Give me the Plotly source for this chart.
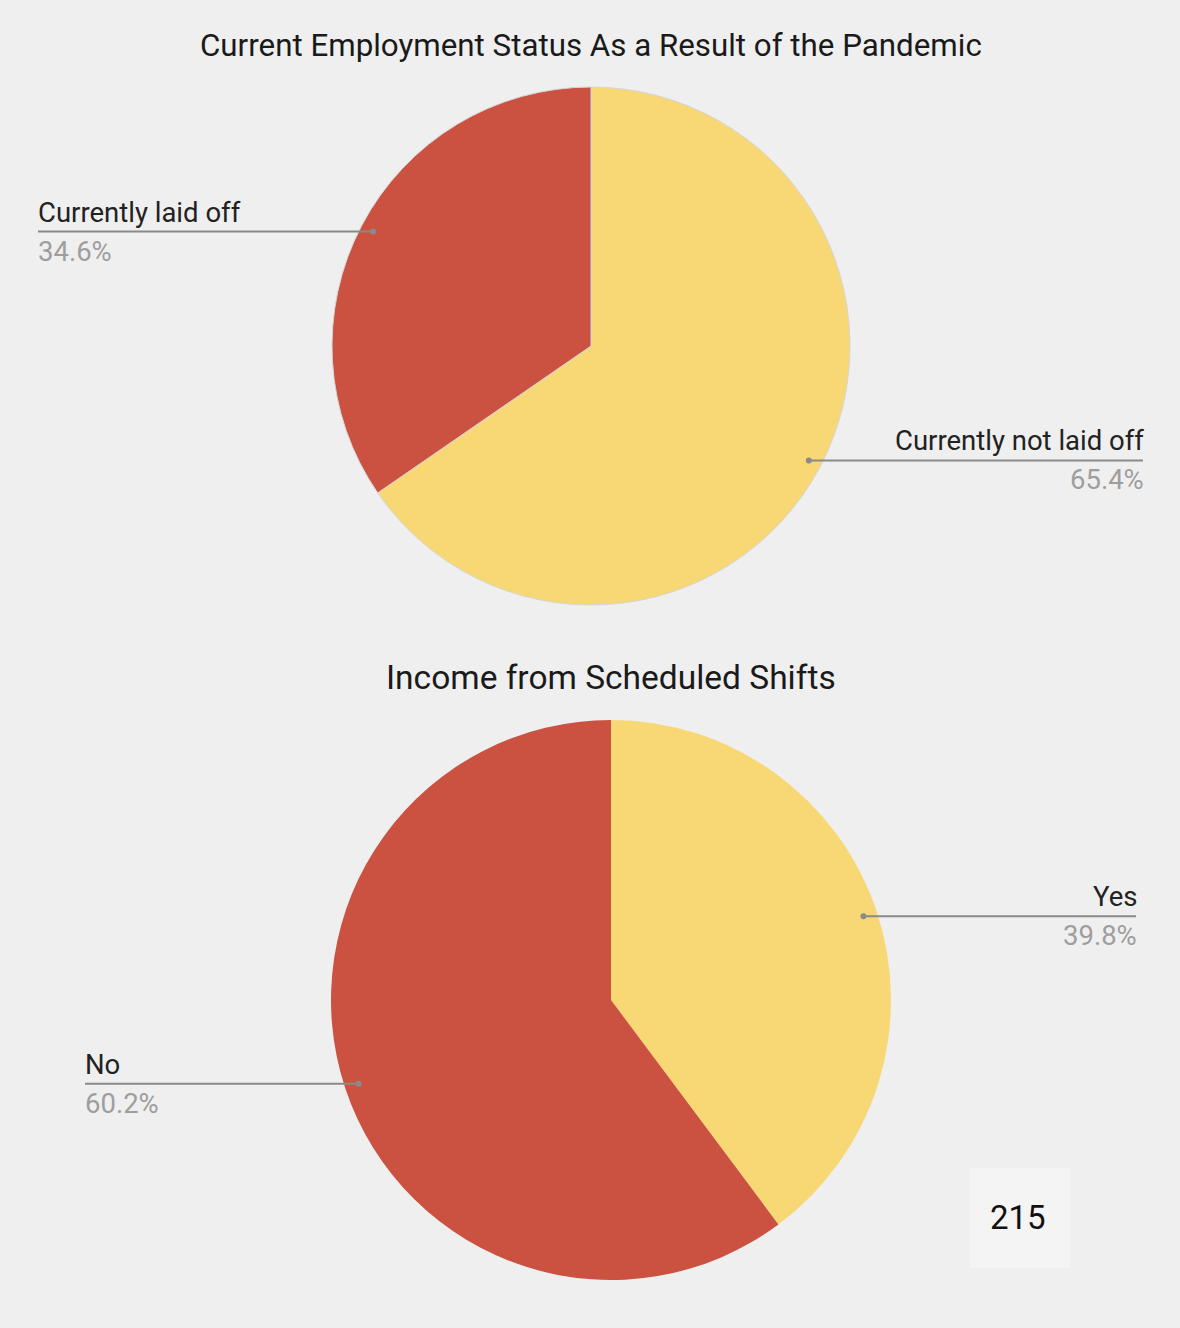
import math
import plotly.graph_objects as go

W, H = 1180, 1328

# data
top_title = 'Current Employment Status As a Result of the Pandemic'
top_labels = ['Currently not laid off', 'Currently laid off']
top_values = [65.4, 34.6]

bot_title = 'Income from Scheduled Shifts'
bot_labels = ['Yes', 'No']
bot_values = [39.8, 60.2]

total_n = '215'

RED = '#CB5140'
YELLOW = '#F8D775'
BG = '#EFEFEF'
colors = [YELLOW, RED]


def px2paper(x, y):
    return x / W, 1 - y / H


def pie_domain(cx, cy, r):
    x0, y1 = px2paper(cx - r, cy - r)
    x1, y0 = px2paper(cx + r, cy + r)
    return dict(x=[x0, x1], y=[y0, y1])


fig = go.Figure()

# pie geometry in pixels (center x, center y, radius, left line end, right line end)
pies = [
    (top_labels, top_values, 591, 346, 259, 38, 1143, '#D6D6D6', 1),
    (bot_labels, bot_values, 611, 1000, 280, 85, 1136, 'rgba(0,0,0,0)', 0),
]

shapes = []
annotations = []
for labels, values, cx, cy, r, left_x, right_x, lcol, lw in pies:
    fig.add_trace(go.Pie(
        labels=labels, values=values, sort=False, direction='clockwise',
        rotation=0, textinfo='none', hoverinfo='label+percent',
        marker=dict(colors=colors, line=dict(color=lcol, width=lw)),
        domain=pie_domain(cx, cy, r), showlegend=False,
    ))
    tot = sum(values)
    start = 0.0
    for lab, v in zip(labels, values):
        span = 360.0 * v / tot
        mid = math.radians(start + span / 2)
        start += span
        dx = 0.95 * r * math.sin(mid)
        dy = -0.95 * r * math.cos(mid)
        px_, py_ = cx + dx, cy + dy
        end_x = right_x if dx > 0 else left_x
        x0, y0 = px2paper(px_, py_)
        x1, _ = px2paper(end_x, py_)
        shapes.append(dict(type='line', xref='paper', yref='paper',
                           x0=x0, y0=y0, x1=x1, y1=y0,
                           line=dict(color='#8A8A8A', width=2)))
        shapes.append(dict(type='circle', xref='paper', yref='paper',
                           x0=(px_ - 3) / W, x1=(px_ + 3) / W,
                           y0=1 - (py_ + 3) / H, y1=1 - (py_ - 3) / H,
                           fillcolor='#8A8A8A', line=dict(width=0)))
        anchor = 'right' if dx > 0 else 'left'
        shift = 3 if dx > 0 else -2
        annotations.append(dict(x=x1, y=y0 + 1 / H, xref='paper', yref='paper',
                                text=lab, showarrow=False, xanchor=anchor,
                                yanchor='bottom', xshift=shift,
                                font=dict(size=27.5, color='#222222')))
        annotations.append(dict(x=x1, y=y0 - 1 / H, xref='paper', yref='paper',
                                text=f'{v:.1f}%', showarrow=False, xanchor=anchor,
                                yanchor='top', xshift=shift,
                                font=dict(size=27.5, color='#9E9E9E')))

# titles
for title, cx, ty, fs in [(top_title, 591, 46, 31.3), (bot_title, 611, 677, 33.5)]:
    x, y = px2paper(cx, ty)
    annotations.append(dict(x=x, y=y, xref='paper', yref='paper', text=title,
                            showarrow=False, xanchor='center', yanchor='middle',
                            font=dict(size=fs, color='#1A1A1A')))

# total box
shapes.append(dict(type='rect', xref='paper', yref='paper',
                   x0=970 / W, x1=1070 / W, y0=1 - 1268 / H, y1=1 - 1168 / H,
                   fillcolor='#F4F4F4', line=dict(width=0), layer='below'))
annotations.append(dict(x=1018 / W, y=1 - 1217 / H, xref='paper', yref='paper',
                        text=total_n, showarrow=False, xanchor='center',
                        yanchor='middle',
                        font=dict(size=33, color='#111111')))

fig.update_layout(
    width=W, height=H,
    margin=dict(l=0, r=0, t=0, b=0),
    paper_bgcolor=BG, plot_bgcolor=BG,
    font=dict(family='Roboto, Arial, sans-serif'),
    shapes=shapes, annotations=annotations,
)

fig.write_html('out.html', config={'displayModeBar': False},
               post_script="document.body.style.margin='0';"
                           "document.body.style.background='#EFEFEF';")
